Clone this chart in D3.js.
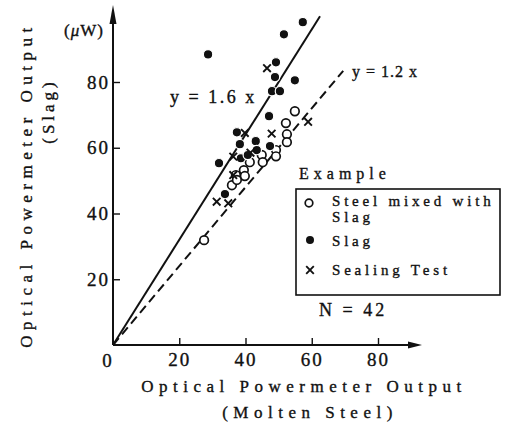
<!DOCTYPE html>
<html>
<head>
<meta charset="utf-8">
<script src="https://cdn.jsdelivr.net/npm/d3@7"></script>
<style>
  body { margin: 0; background: #fff; }
  text { font-family: "Liberation Serif", "DejaVu Serif", serif; fill: #111; stroke: #111; stroke-width: 0.35; }
</style>
</head>
<body>
<div id="chart"></div>
<script>
// data (x = molten steel, y = slag), uW
var slag = [[57.3,98.2],[51.6,94.5],[28.7,88.4],[49.2,86.0],[48.9,81.5],[54.9,80.5],
  [48.0,77.2],[50.4,77.2],[47.1,69.6],[37.4,64.7],[43.1,62.0],[47.4,60.5],[32.0,55.3],
  [38.3,61.1],[38.6,56.8],[33.8,45.9],[43.4,59.3],[40.7,57.8]];
var steelMixed = [[54.9,71.1],[52.2,67.5],[52.5,64.1],[52.5,61.7],[49.2,59.3],[49.2,57.4],
  [44.9,57.8],[45.2,55.6],[41.3,55.6],[39.5,53.2],[39.8,51.4],[37.1,51.7],[35.9,48.6],
  [37.4,50.2],[27.5,31.9]];
var sealing = [[46.5,84.2],[39.8,64.5],[58.9,67.9],[47.9,64.3],[31.3,43.6],[34.8,43.1],
  [36.3,51.7],[36.3,57.3],[41.5,58.5]];
var tickVals = [20, 40, 60, 80];
var fits = [{k: 1.6, xEnd: 62.5, label: "y = 1.6 x", dash: null},
            {k: 1.2, xEnd: 69.5, label: "y = 1.2 x", dash: "9,5"}];

var W = 531, H = 425;
var svg = d3.select("#chart").append("svg").attr("width", W).attr("height", H);

var x = d3.scaleLinear().domain([0, 80]).range([113, 378]);
var y = d3.scaleLinear().domain([0, 80]).range([345, 82]);

function styleAxis(g) {
  g.select(".domain").remove();
  g.selectAll("line").attr("stroke", "#111").attr("stroke-width", 1.4);
  g.selectAll("text").attr("font-size", 19).attr("letter-spacing", 2)
    .attr("font-family", "Liberation Serif, serif").attr("fill", "#111");
}

// axes (ticks point inward)
svg.append("g")
    .attr("transform", "translate(" + x(0) + ",0)")
    .call(d3.axisLeft(y).tickValues(tickVals).tickSizeInner(-7).tickSizeOuter(0).tickPadding(3))
    .call(styleAxis);

svg.append("g")
    .attr("transform", "translate(0," + y(0) + ")")
    .call(d3.axisBottom(x).tickValues(tickVals).tickSizeInner(-7).tickSizeOuter(0).tickPadding(8))
    .call(styleAxis);

// axis lines with arrows
svg.append("line").attr("x1", x(0)).attr("y1", y(0)).attr("x2", x(0)).attr("y2", 12)
    .attr("stroke", "#111").attr("stroke-width", 2);
svg.append("path").attr("d", "M" + x(0) + ",5 L" + (x(0) - 3.5) + ",24 L" + (x(0) + 3.5) + ",24 Z")
    .attr("fill", "#111");
svg.append("line").attr("x1", x(0)).attr("y1", y(0)).attr("x2", 414).attr("y2", y(0))
    .attr("stroke", "#111").attr("stroke-width", 2);
svg.append("path").attr("d", "M422," + y(0) + " L408," + (y(0) - 3.5) + " L408," + (y(0) + 3.5) + " Z")
    .attr("fill", "#111");

svg.append("text").attr("x", 107).attr("y", 367).attr("text-anchor", "middle")
    .attr("font-size", 19).text("0");
svg.append("text").attr("x", 84).attr("y", 36).attr("text-anchor", "middle")
    .attr("font-size", 17).attr("letter-spacing", 1)
    .html("(<tspan font-style='italic'>μ</tspan>W)");

// fit lines
svg.selectAll(".fit").data(fits).enter().append("line")
    .attr("class", "fit")
    .attr("x1", x(0)).attr("y1", y(0))
    .attr("x2", function(d) { return x(d.xEnd); })
    .attr("y2", function(d) { return y(d.k * d.xEnd); })
    .attr("stroke", "#111").attr("stroke-width", 2)
    .attr("stroke-dasharray", function(d) { return d.dash; });

svg.append("text").attr("x", 170).attr("y", 103).attr("font-size", 18).attr("letter-spacing", 2.5)
    .text(fits[0].label);
svg.append("text").attr("x", 352).attr("y", 77).attr("font-size", 16).attr("letter-spacing", 1)
    .text(fits[1].label);

// markers
var r = 4.3;
svg.append("g").selectAll("circle").data(steelMixed).enter().append("circle")
    .attr("cx", function(d) { return x(d[0]); }).attr("cy", function(d) { return y(d[1]); })
    .attr("r", r).attr("fill", "#fff").attr("stroke", "#111").attr("stroke-width", 1.7);
svg.append("g").selectAll("circle").data(slag).enter().append("circle")
    .attr("cx", function(d) { return x(d[0]); }).attr("cy", function(d) { return y(d[1]); })
    .attr("r", r + 0.4).attr("fill", "#111").attr("stroke", "#fff").attr("stroke-width", 1.2);
var c = 3.8;
function cross(sel) {
  sel.append("path")
    .attr("d", "M" + (-c) + "," + (-c) + "L" + c + "," + c + "M" + (-c) + "," + c + "L" + c + "," + (-c))
    .attr("stroke", "#111").attr("stroke-width", 1.9).attr("fill", "none");
}
svg.append("g").selectAll("g").data(sealing).enter().append("g")
    .attr("transform", function(d) { return "translate(" + x(d[0]) + "," + y(d[1]) + ")"; })
    .call(cross);

// axis titles
svg.append("text").attr("x", 304).attr("y", 392).attr("text-anchor", "middle")
    .attr("font-size", 17).attr("letter-spacing", 5.5).text("Optical Powermeter Output");
svg.append("text").attr("x", 310).attr("y", 418).attr("text-anchor", "middle")
    .attr("font-size", 17).attr("letter-spacing", 5.5).text("(Molten Steel)");
svg.append("text").attr("transform", "translate(32,185) rotate(-90)").attr("text-anchor", "middle")
    .attr("font-size", 17).attr("letter-spacing", 5.5).text("Optical Powermeter Output");
svg.append("text").attr("transform", "translate(54,111) rotate(-90)").attr("text-anchor", "middle")
    .attr("font-size", 17).attr("letter-spacing", 4).text("(Slag)");

// legend
svg.append("text").attr("x", 299).attr("y", 179).attr("font-size", 16).attr("letter-spacing", 5)
    .text("Example");
svg.append("rect").attr("x", 296).attr("y", 189).attr("width", 204).attr("height", 106)
    .attr("fill", "none").attr("stroke", "#111").attr("stroke-width", 1.6);
var lg = svg.append("g");
lg.append("circle").attr("cx", 309).attr("cy", 203).attr("r", 3.8)
    .attr("fill", "#fff").attr("stroke", "#111").attr("stroke-width", 1.7);
lg.append("circle").attr("cx", 310).attr("cy", 240).attr("r", 4)
    .attr("fill", "#111");
lg.append("g").attr("transform", "translate(310,270)").call(cross);
var legendText = [["Steel mixed with", 206], ["Slag", 222], ["Slag", 246], ["Sealing Test", 275]];
lg.selectAll("text").data(legendText).enter().append("text")
    .attr("x", 332).attr("y", function(d) { return d[1]; })
    .attr("font-size", 15).attr("letter-spacing", 3.8).text(function(d) { return d[0]; });

svg.append("text").attr("x", 319).attr("y", 316).attr("font-size", 18).attr("letter-spacing", 3)
    .text("N = 42");
</script>
</body>
</html>
